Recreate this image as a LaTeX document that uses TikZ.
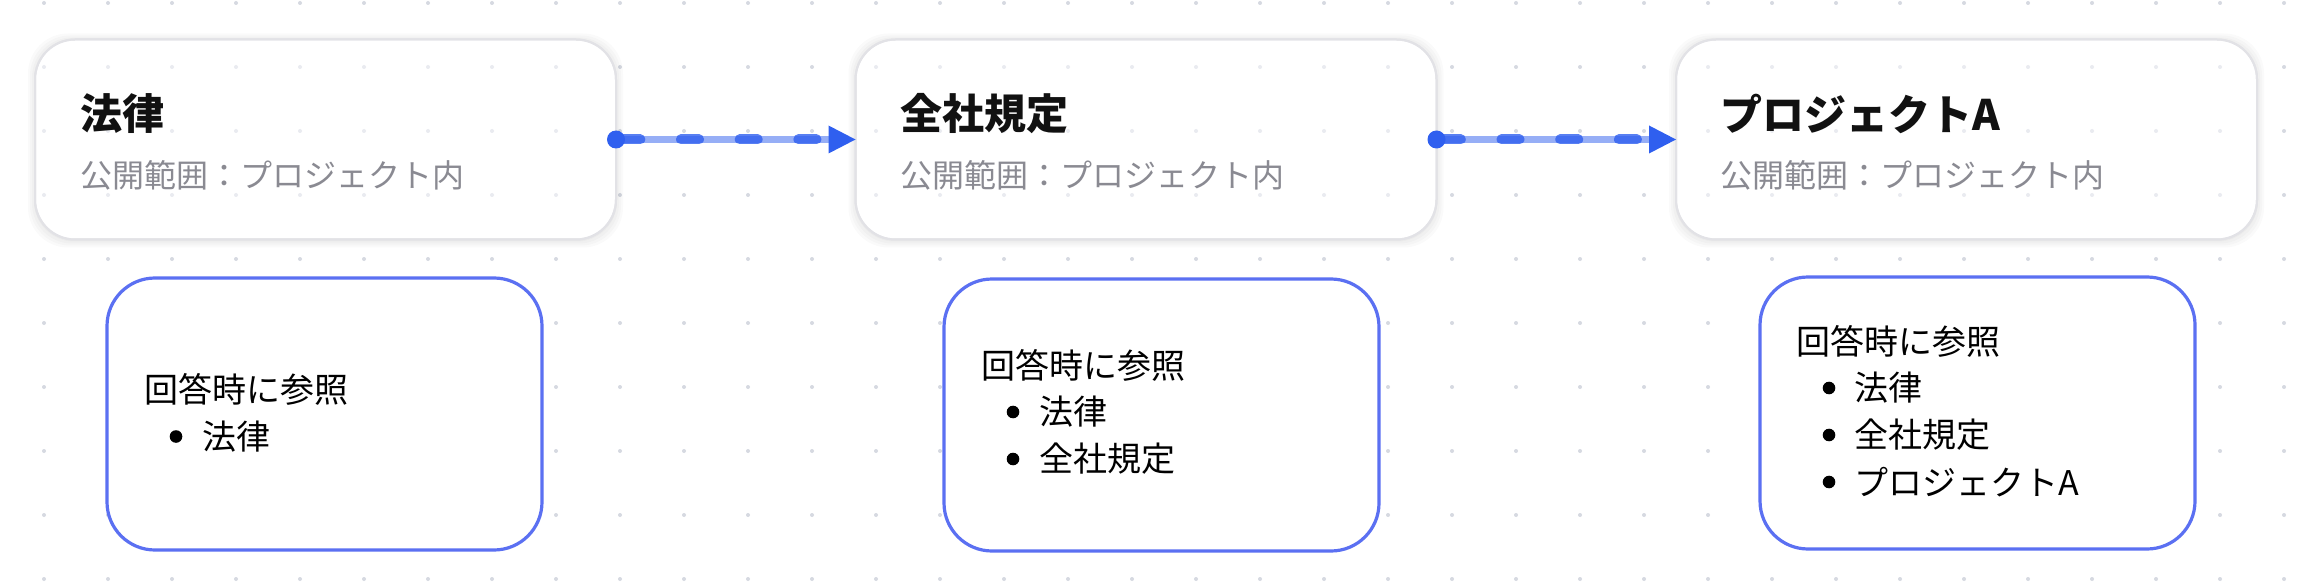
\documentclass[tikz,border=0pt]{standalone}
\usepackage{fontspec}
\setmainfont{Noto Sans CJK JP}
\definecolor{dotc}{HTML}{D6D9E1}
\definecolor{dotin}{HTML}{E9EBF0}
\definecolor{cardborder}{HTML}{E2E2E6}
\definecolor{subgray}{HTML}{8A8A92}
\definecolor{titleblack}{HTML}{111111}
\definecolor{arrowblue}{HTML}{2F5FEF}
\definecolor{refborder}{HTML}{5B70F2}
\newcommand\dotgrid[1]{\foreach \i in {0,...,35}{\foreach \j in {0,...,9}{\fill[#1] ({44+64*\i},{3+64*\j}) circle (1pt);}}}
\newcommand\flowarrow[2]{%
  \draw[arrowblue, opacity=0.5, line width=3.5pt] (#1.east) -- ([xshift=-13.5pt]#2.west);
  \draw[arrowblue, opacity=0.8, line width=5pt, line cap=round, dash pattern=on 9pt off 20.35pt, dash phase=26.2pt] (#1.east) -- ([xshift=-13.5pt]#2.west);
  \fill[arrowblue] (#1.east) circle (4.5pt);
  \fill[arrowblue] (#2.west) -- ++(-13.5pt,7pt) -- ++(0pt,-14pt) -- cycle;}
\newcommand\cardshadow[1]{%
  \foreach \s/\d in {0.5pt/1pt,1.5pt/2pt,2.5pt/3pt,3.5pt/4pt}{%
    \fill[black, opacity=0.018, rounded corners=20pt]
      ([xshift=-\s,yshift=-\d]#1.south west) rectangle ([xshift=\s,yshift=-\d+2*\s]#1.north east);}}
\newcommand\carddots[1]{%
  \begin{scope}
    \clip[rounded corners=20pt] (#1.south west) rectangle (#1.north east);
    \dotgrid{dotin}
  \end{scope}
  \draw[cardborder, line width=1pt, rounded corners=20pt] (#1.south west) rectangle (#1.north east);}
\tikzset{
  card/.style={draw=cardborder, line width=1pt, fill=white, rounded corners=20pt,
    minimum width=290.5pt, minimum height=100pt, inner sep=0pt, outer sep=0pt},
  cardtitle/.style={anchor=west, inner sep=0pt, font=\fontsize{21pt}{25pt}\selectfont\bfseries, text=titleblack},
  cardsub/.style={anchor=west, inner sep=0pt, font=\fontsize{16pt}{19pt}\selectfont, text=subgray},
  refbox/.style={draw=refborder, line width=1.6pt, fill=white, rounded corners=24pt,
    minimum width=217.5pt, minimum height=136pt, inner sep=0pt, outer sep=0pt},
  reftxt/.style={anchor=west, inner sep=0pt, font=\fontsize{17pt}{20pt}\selectfont, text=black},
  bul/.style={circle, fill=black, inner sep=0pt, minimum size=6.3pt}
}
\begin{document}
\begin{tikzpicture}[x=0.5pt, y=-0.5pt]
  \fill[white] (0,0) rectangle (2300,588);
  \useasboundingbox (0,0) rectangle (2300,588);
  \dotgrid{dotc}
  % top cards
  \coordinate (c1) at (325.5,139.5);
  \coordinate (c2) at (1146,139.5);
  \coordinate (c3) at (1966.5,139.5);
  \path (c1) node[card, draw=none, fill=none] (p1) {} (c2) node[card, draw=none, fill=none] (p2) {} (c3) node[card, draw=none, fill=none] (p3) {};
  \cardshadow{p1}\cardshadow{p2}\cardshadow{p3}
  \node[card] (b1) at (c1) {};
  \node[card] (b2) at (c2) {};
  \node[card] (b3) at (c3) {};
  \carddots{b1}\carddots{b2}\carddots{b3}
  \node[cardtitle] (t1) at (80,114) {法律};
  \node[cardsub] (s1) at (80,175) {公開範囲：プロジェクト内};
  \node[cardtitle] (t2) at (900,114) {全社規定};
  \node[cardsub] (s2) at (900,175) {公開範囲：プロジェクト内};
  \node[cardtitle] (t3) at (1720,114) {プロジェクトA};
  \node[cardsub] (s3) at (1720,175) {公開範囲：プロジェクト内};
  % connectors
  \flowarrow{b1}{b2}
  \flowarrow{b2}{b3}
  % lower boxes
  \node[refbox] (r1) at (324.5,414) {};
  \node[refbox] (r2) at (1161.5,415) {};
  \node[refbox] (r3) at (1977.5,413) {};
  \node[reftxt] (h1) at (144,389.5) {回答時に参照};
  \node[bul] (u11) at (176,436.5) {};
  \node[reftxt] (i11) at (202,436.5) {法律};
  \node[reftxt] (h2) at (981,365) {回答時に参照};
  \node[bul] (u21) at (1013,412) {};
  \node[reftxt] (i21) at (1039,412) {法律};
  \node[bul] (u22) at (1013,459) {};
  \node[reftxt] (i22) at (1039,459) {全社規定};
  \node[reftxt] (h3) at (1796,341) {回答時に参照};
  \node[bul] (u31) at (1829,388) {};
  \node[reftxt] (i31) at (1854,388) {法律};
  \node[bul] (u32) at (1829,435) {};
  \node[reftxt] (i32) at (1854,435) {全社規定};
  \node[bul] (u33) at (1829,482) {};
  \node[reftxt] (i33) at (1854,482) {プロジェクトA};
\end{tikzpicture}
\end{document}
